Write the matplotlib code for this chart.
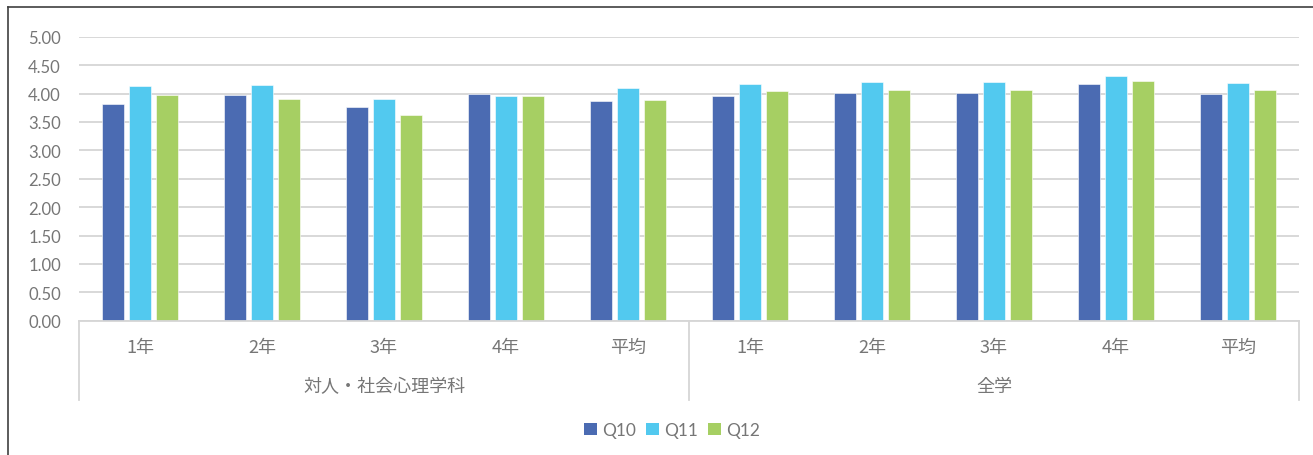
import matplotlib
matplotlib.use("Agg")
import matplotlib.pyplot as plt
from matplotlib import transforms
from matplotlib.lines import Line2D
from matplotlib.patches import Patch
import numpy as np

# Survey averages by grade (対人・社会心理学科, then 全学)
groups = ["対人・社会心理学科", "全学"]
grades = ["1年", "2年", "3年", "4年", "平均"]
series = ["Q10", "Q11", "Q12"]

q10 = [3.81, 3.97, 3.76, 4.00, 3.87, 3.95, 4.01, 4.01, 4.17, 3.99]
q11 = [4.14, 4.15, 3.90, 3.95, 4.10, 4.17, 4.20, 4.21, 4.30, 4.18]
q12 = [3.97, 3.90, 3.62, 3.95, 3.89, 4.04, 4.06, 4.07, 4.22, 4.06]

colors = ["#4b6bb2", "#52c9ef", "#a6cf63"]
text_color = "#767676"
grid_color = "#d6d6d6"

W, H = 1313, 456
fig = plt.figure(figsize=(W / 100, H / 100), dpi=100)
ax = fig.add_axes([79 / W, 1 - 321.7 / H, 1220 / W, 284 / H])

n = len(groups) * len(grades)
x = np.arange(n)
pitch, width = 0.221, 0.175
for i, (vals, col) in enumerate(zip([q10, q11, q12], colors)):
    ax.bar(x + (i - 1) * pitch, vals, width=width, color=col,
           edgecolor="#ffffff", linewidth=0.4, zorder=3)

ax.set_xlim(-0.5, n - 0.5)
ax.set_ylim(0, 5)
ax.set_yticks(np.arange(0, 5.01, 0.5))
ax.set_yticklabels([f"{v:.2f}" for v in np.arange(0, 5.01, 0.5)],
                   fontsize=12, color=text_color, family=["Lato", "DejaVu Sans"])
ax.tick_params(axis="y", length=0, pad=13)
ax.set_xticks([])
ax.yaxis.grid(True, color=grid_color, linewidth=1.3, zorder=0)
for s in ["top", "right", "left"]:
    ax.spines[s].set_visible(False)
ax.spines["bottom"].set_color(grid_color)
ax.spines["bottom"].set_linewidth(1.3)
ax.spines["bottom"].set_zorder(4)

# Two-level category axis
bt = transforms.blended_transform_factory(ax.transData, fig.transFigure)
cjk = ["Noto Sans CJK JP", "DejaVu Sans"]
for gi, g in enumerate(groups):
    for k, lab in enumerate(grades):
        ax.text(gi * len(grades) + k, 1 - 348 / H, lab, transform=bt,
                ha="center", va="center", fontsize=13, color=text_color,
                family=cjk)
    ax.text(gi * len(grades) + (len(grades) - 1) / 2, 1 - 387 / H, g,
            transform=bt, ha="center", va="center", fontsize=13,
            color=text_color, family=cjk)
for xb in [-0.5, len(grades) - 0.5, n - 0.5]:
    fig.add_artist(Line2D([xb, xb], [1 - 322 / H, 1 - 401 / H], transform=bt,
                          color=grid_color, linewidth=1.3))

# Chart frame
fig.add_artist(Line2D([7.5 / W, 7.5 / W], [0, 1 - 8 / H], transform=fig.transFigure,
                      color="#404040", linewidth=1.2))
fig.add_artist(Line2D([7.5 / W, 1], [1 - 8 / H, 1 - 8 / H], transform=fig.transFigure,
                      color="#404040", linewidth=1.2))

handles = [Patch(facecolor=c, edgecolor="none") for c in colors]
fig.legend(handles, series, loc="center", bbox_to_anchor=(672 / W, 1 - 431 / H),
           ncol=3, frameon=False, handlelength=0.75,
           handleheight=0.75, handletextpad=0.3, columnspacing=0.55,
           labelcolor=text_color, prop={"family": ["Lato", "DejaVu Sans"], "size": 12.5})

fig.savefig("out.png", dpi=100, facecolor="white")
